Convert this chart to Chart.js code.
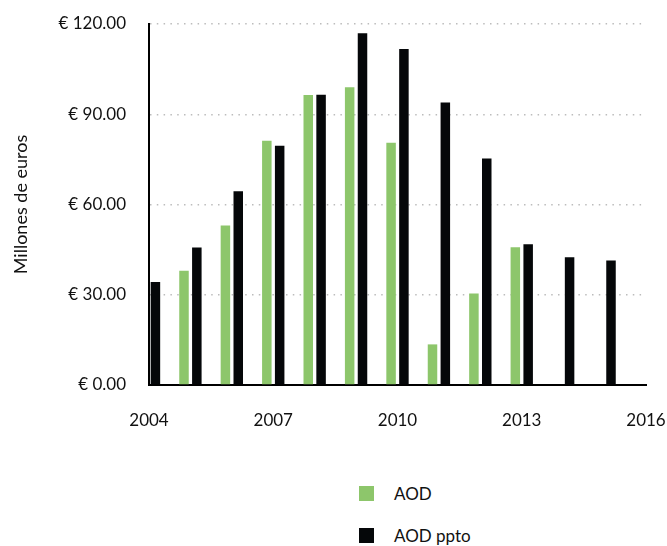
<!DOCTYPE html>
<html lang="es">
<head>
<meta charset="utf-8">
<title>AOD</title>
<script src="https://cdn.jsdelivr.net/npm/chart.js@4/dist/chart.umd.min.js"></script>
<style>
    html, body { margin: 0; padding: 0; background: #fff; }
    #wrap { position: relative; width: 667px; height: 546px; }
    #chartBox { position: absolute; left: 0; top: 0; width: 667px; height: 430px; }
    #legend { position: absolute; left: 359px; top: 486px; font-family: Lato, sans-serif; font-size: 17px; color: #111; }
    .item { display: flex; align-items: center; height: 15px; margin-bottom: 27px; }
    .swatch { width: 15px; height: 15px; margin-right: 20px; }
</style>
</head>
<body>
<div id="wrap">
    <div id="chartBox"><canvas id="aodChart"></canvas></div>
    <div id="legend"></div>
</div>
<script>
// Años (eje X) y valores en millones de euros
const years = ['2004', '2005', '2006', '2007', '2008', '2009', '2010', '2011', '2012', '2013', '2014', '2015', '2016'];
const aod = [null, 38.0, 53.0, 81.2, 96.4, 99.0, 80.5, 13.5, 30.4, 45.8, null, null, null];
const aodPpto = [34.2, 45.7, 64.4, 79.5, 96.5, 116.9, 111.7, 93.9, 75.3, 46.8, 42.5, 41.4, null];
const yTicks = [0, 30, 60, 90, 120];

const green = '#8dc66b';
const black = '#050709';
const font = { family: 'Lato, sans-serif', size: 17 };

function renderAodChart() {
    const ctx = document.getElementById('aodChart').getContext('2d');

    const chart = new Chart(ctx, {
        type: 'bar',
        data: {
            labels: years,
            datasets: [
                { label: 'AOD', data: aod, backgroundColor: green },
                { label: 'AOD ppto', data: aodPpto, backgroundColor: black }
            ]
        },
        options: {
            responsive: true,
            maintainAspectRatio: false,
            animation: false,
            categoryPercentage: 0.62,
            barPercentage: 0.74,
            layout: { padding: { left: 10, top: 24, right: 21, bottom: 0 } },
            plugins: {
                legend: { display: false }, // leyenda en HTML, debajo del gráfico
                tooltip: { enabled: false }
            },
            scales: {
                x: {
                    offset: false,
                    // tamaño fijo del eje, sin margen extra por las etiquetas
                    afterFit: scale => {
                        scale.height = 45;
                        scale.paddingLeft = 0;
                        scale.paddingRight = 0;
                    },
                    grid: { display: false },
                    border: { display: true, color: '#000', width: 2 },
                    ticks: {
                        autoSkip: false,
                        maxRotation: 0,
                        padding: 17,
                        color: '#111',
                        font: font,
                        // solo cada tres años
                        callback: (value, index) => index % 3 === 0 ? years[index] : ''
                    }
                },
                y: {
                    min: 0,
                    max: 120,
                    afterFit: scale => {
                        scale.width = 139;
                        scale.paddingTop = 0;
                        scale.paddingBottom = 0;
                    },
                    afterBuildTicks: scale => { scale.ticks = yTicks.map(v => ({ value: v })); },
                    grid: { color: '#bcbcbc', lineWidth: 1.5, drawTicks: false },
                    border: { display: true, color: '#000', width: 2, dash: [1.5, 5.3] },
                    ticks: {
                        padding: 23,
                        color: '#111',
                        font: font,
                        callback: value => '€ ' + value.toFixed(2)
                    },
                    title: {
                        display: true,
                        text: 'Millones de euros',
                        color: '#111',
                        font: { family: 'Lato, sans-serif', size: 18 },
                        padding: { top: 0, bottom: 0 }
                    }
                }
            }
        }
    });
    return chart;
}

// Leyenda vertical con los colores de cada serie
function renderLegend(chart) {
    const legend = document.getElementById('legend');
    legend.innerHTML = '';
    chart.data.datasets.forEach(ds => {
        legend.innerHTML += `<div class="item">
            <span class="swatch" style="background:${ds.backgroundColor}"></span>
            <span>${ds.label}</span>
        </div>`;
    });
}

const aodChart = renderAodChart();
renderLegend(aodChart);
</script>
</body>
</html>
